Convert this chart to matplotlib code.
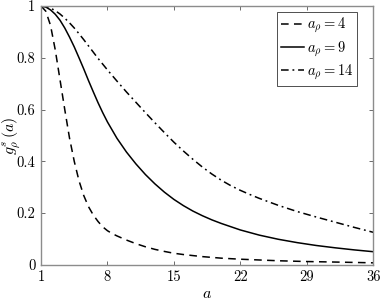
import matplotlib
matplotlib.use("Agg")
import matplotlib.pyplot as plt

plt.rcParams["font.family"] = "serif"
plt.rcParams["font.serif"] = ["cmr10"]
plt.rcParams["mathtext.fontset"] = "cm"
plt.rcParams["axes.formatter.use_mathtext"] = True

# values
a_4 = [1, 1.5, 2, 2.5, 3, 3.5, 4, 4.5, 5, 5.5, 6, 6.5, 7, 7.5, 8, 8.5, 9, 10, 11, 12,
       13, 14, 15, 16, 18, 20, 22, 24, 26, 29, 32, 36]
g_4 = [1.0, 0.98, 0.925, 0.83, 0.715, 0.60, 0.49, 0.40, 0.325, 0.268, 0.225, 0.193,
       0.168, 0.147, 0.132, 0.121, 0.112, 0.096, 0.082, 0.070, 0.060, 0.052, 0.045, 0.040,
       0.032, 0.026, 0.022, 0.019, 0.016, 0.013, 0.011, 0.008]

a_9 = [1, 1.5, 2, 2.5, 3, 3.5, 4, 4.5, 5, 5.5, 6, 6.5, 7, 7.5, 8, 9, 10, 11, 12, 13, 14,
       15, 16, 17, 18, 19, 20, 22, 24, 26, 28, 30, 32, 34, 36]
g_9 = [1.0, 0.996, 0.985, 0.968, 0.945, 0.915, 0.88, 0.842, 0.80, 0.757, 0.712, 0.669,
       0.627, 0.588, 0.552, 0.489, 0.436, 0.39, 0.349, 0.313, 0.281, 0.253, 0.229, 0.208,
       0.19, 0.174, 0.16, 0.135, 0.115, 0.099, 0.086, 0.075, 0.066, 0.058, 0.051]

a_14 = [1, 1.5, 2, 2.5, 3, 3.5, 4, 4.5, 5, 5.5, 6, 7, 8, 9, 10, 11, 12, 13, 14, 15, 16,
        17, 18, 19, 20, 21, 22, 23, 24, 26, 28, 30, 32, 34, 36]
g_14 = [1.0, 0.998, 0.992, 0.982, 0.969, 0.953, 0.935, 0.915, 0.893, 0.87, 0.846, 0.798,
        0.753, 0.71, 0.668, 0.628, 0.588, 0.549, 0.511, 0.474, 0.44, 0.408, 0.378, 0.351,
        0.327, 0.306, 0.288, 0.272, 0.257, 0.23, 0.206, 0.185, 0.165, 0.145, 0.126]

x_ticks = [1, 8, 15, 22, 29, 36]
y_ticks = [0, 0.2, 0.4, 0.6, 0.8, 1]
y_tick_labels = ["0", "0.2", "0.4", "0.6", "0.8", "1"]

fig = plt.figure(figsize=(3.8, 3.0), dpi=100)
ax = fig.add_axes([0.108, 0.117, 0.874, 0.863])

ax.plot(a_4, g_4, color="black", linestyle=(0, (5, 3.5)), linewidth=1.1, label=r"$a_\rho = 4$")
ax.plot(a_9, g_9, color="black", linestyle="-", linewidth=1.1, label=r"$a_\rho = 9$")
ax.plot(a_14, g_14, color="black", linestyle=(0, (5, 2.5, 1.2, 2.5)), linewidth=1.1,
        label=r"$a_\rho = 14$")

ax.set_xlim(1, 36)
ax.set_ylim(0, 1)
ax.set_xticks(x_ticks)
ax.set_xticklabels([str(t) for t in x_ticks])
ax.set_yticks(y_ticks)
ax.set_yticklabels(y_tick_labels)
ax.tick_params(direction="in", length=3, width=0.6, color="#555555",
               top=True, right=True, labelsize=10.5, pad=4)

for sp in ax.spines.values():
    sp.set_color("#8c8c8c")
    sp.set_linewidth(1.0)

ax.set_xlabel(r"$a$", fontsize=11.5)
ax.xaxis.set_label_coords(0.5, -0.085)
ax.set_ylabel(r"$g^s_\rho\,(a)$", fontsize=11.5)
ax.yaxis.set_label_coords(-0.054, 0.5)

leg = ax.legend(loc="upper right", bbox_to_anchor=(357 / 380, 1 - 12 / 300),
                bbox_transform=fig.transFigure, borderaxespad=0, fontsize=10.5,
                handlelength=1.6, handletextpad=0.2, borderpad=0.25, labelspacing=0.25,
                fancybox=False, framealpha=1)
leg.get_frame().set_edgecolor("#333333")
leg.get_frame().set_linewidth(0.6)

fig.savefig("out.png", dpi=100)
